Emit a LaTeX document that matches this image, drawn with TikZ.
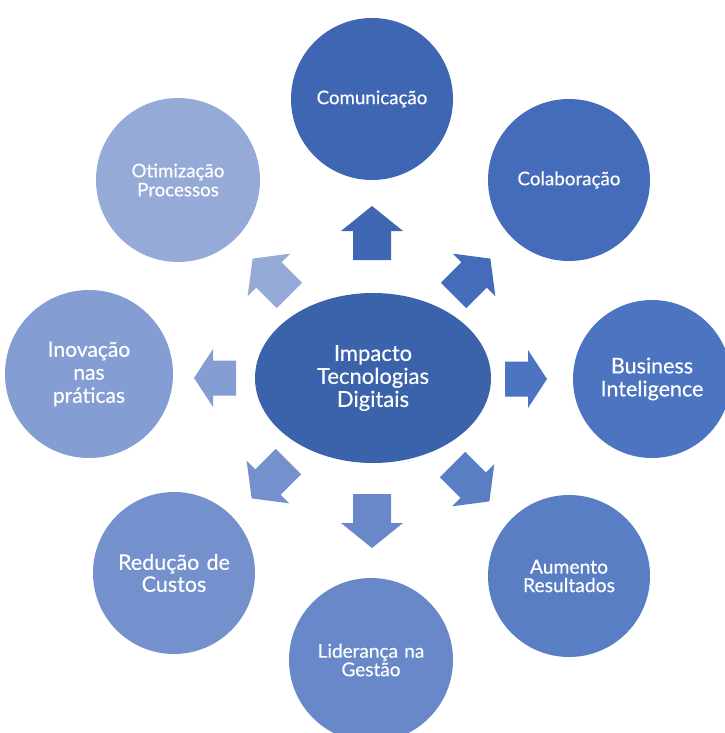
\documentclass[tikz,border=0pt]{standalone}
\usepackage{fontspec}
\setmainfont{Lato}[FakeBold=0.3]
\usetikzlibrary{shapes.geometric}
\definecolor{cCenter}{RGB}{59,99,172}
\definecolor{cCom}{RGB}{62,102,178}
\definecolor{cCol}{RGB}{68,108,186}
\definecolor{cBI}{RGB}{76,116,192}
\definecolor{cAum}{RGB}{89,126,196}
\definecolor{cLid}{RGB}{104,136,201}
\definecolor{cRed}{RGB}{116,145,205}
\definecolor{cIno}{RGB}{132,157,211}
\definecolor{cOti}{RGB}{150,170,216}
% block arrow: x, y, angle, length, head length, shaft width, head width, colour
\newcommand\blockarr[8]{%
  \begin{scope}[shift={(#1,#2)}, rotate=#3]
    \fill[#8] ({-#4/2},{-#6/2}) -- ({#4/2-#5},{-#6/2}) -- ({#4/2-#5},{-#7/2})
      -- ({#4/2},0) -- ({#4/2-#5},{#7/2}) -- ({#4/2-#5},{#6/2})
      -- ({-#4/2},{#6/2}) -- cycle;
  \end{scope}}
\begin{document}
\begin{tikzpicture}[x=1pt,y=-1pt,
  bubble/.style={circle, minimum size=162pt, inner sep=0pt, text=white, text width=150pt, align=center},
  hub/.style={ellipse, minimum width=236pt, minimum height=170pt, inner sep=0pt, text=white, text width=150pt, align=center}]
\useasboundingbox (0,0) rectangle (724,733);
\fill[white] (0,0) rectangle (724,733);

% arrows
\blockarr{372}{233}{90}{54}{25}{38}{62}{cCom}
\blockarr{472}{277}{45}{52}{23}{36}{60}{cCol}
\blockarr{526}{379}{0}{42}{19}{35}{58}{cBI}
\blockarr{471}{483}{-45}{52}{23}{36}{60}{cAum}
\blockarr{372}{521}{-90}{54}{25}{38}{62}{cLid}
\blockarr{270}{480}{-135}{52}{23}{36}{60}{cRed}
\blockarr{215}{378}{180}{42}{19}{35}{58}{cIno}
\blockarr{271}{277}{135}{52}{23}{36}{60}{cOti}

\node[hub, fill=cCenter, font=\fontsize{22}{23}\selectfont] (center) at (373,378) {Impacto\\ Tecnologias\\ Digitais};
\node[bubble, fill=cCom, font=\fontsize{18.7}{22}\selectfont] (com) at (372,99) {Comunicação};
\node[bubble, fill=cCol, font=\fontsize{18.8}{22}\selectfont] (col) at (569,180) {Colaboração};
\node[bubble, fill=cBI, minimum size=158pt, font=\fontsize{21.5}{23}\selectfont] (bi) at (652,379) {Business\\ Inteligence};
\node[bubble, fill=cAum, font=\fontsize{19.3}{18.5}\selectfont] (aum) at (569,576) {Aumento\\ Resultados};
\node[bubble, fill=cLid, minimum size=164pt, font=\fontsize{19}{18.5}\selectfont] (lid) at (371,660) {Liderança na\\ Gestão};
\node[bubble, fill=cRed, font=\fontsize{21.5}{22}\selectfont] (red) at (174,573) {Redução de\\ Custos};
\node[bubble, fill=cIno, minimum size=168pt, font=\fontsize{21}{23}\selectfont] (ino) at (89,374) {Inovação\\ nas\\ práticas};
\node[bubble, fill=cOti, minimum size=164pt, font=\fontsize{18.7}{19}\selectfont] (oti) at (178,180) {Otimização\\ Processos};
\end{tikzpicture}
\end{document}
